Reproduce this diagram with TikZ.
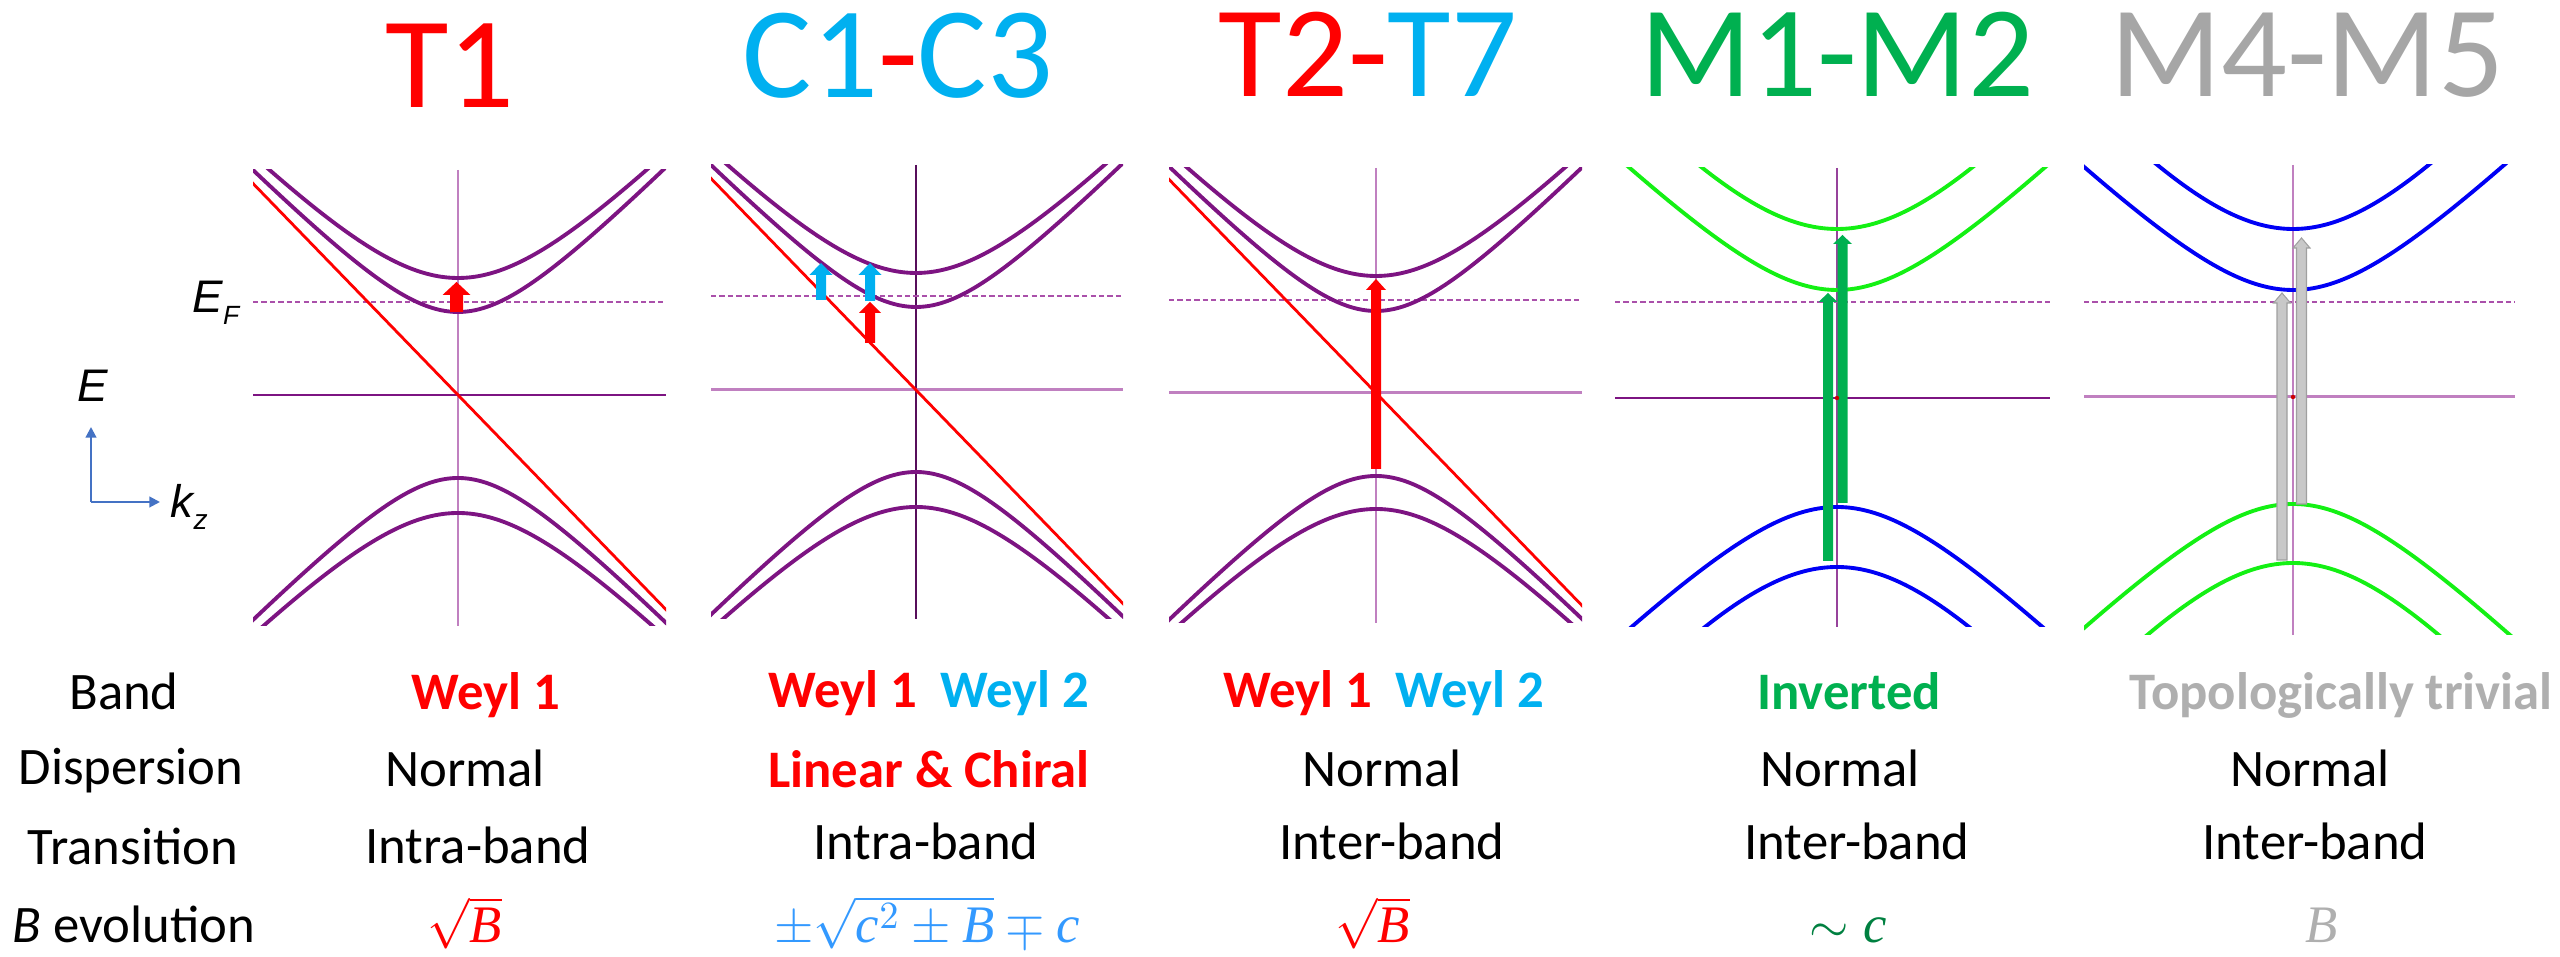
\documentclass[tikz,border=0pt]{standalone}
\usepackage{fontspec}
\setmainfont{Carlito}
\newfontfamily\axfont{Liberation Sans}
\newfontfamily\eqfont{Liberation Serif}
\usetikzlibrary{arrows.meta}
\definecolor{weylblue}{RGB}{0,176,240}
\definecolor{mgreen}{RGB}{0,176,80}
\definecolor{eqgreen}{RGB}{0,128,64}
\definecolor{eqblue}{RGB}{51,153,255}
\definecolor{titlegray}{RGB}{166,166,166}
\definecolor{textgray}{RGB}{175,175,175}
\definecolor{bandpurple}{RGB}{125,20,130}
\definecolor{lightpurple}{RGB}{192,128,192}
\definecolor{fermipurple}{RGB}{170,80,170}
\definecolor{bandgreen}{RGB}{20,240,20}
\definecolor{bandblue}{RGB}{0,0,245}
\definecolor{axisblue}{RGB}{68,114,196}
\definecolor{arrowgray}{RGB}{200,200,200}
\definecolor{edgegray}{RGB}{160,160,160}

% one branch of a gapped band: centre x, zero line, sign (- up / + down), gap, slope
\newcommand{\band}[6][]{%
  \draw[#1] plot[domain=-23:23, samples=81, smooth] ({#2+\x},{#3#4sqrt((#5)^2+(#6*\x)^2)});}
% vertical transition arrow: x, base, tip, shaft half width, head half width, head length
\newcommand{\trans}[7][]{%
  \filldraw[#1] (#2-#5,#3) -- (#2-#5,#4+#7) -- (#2-#6,#4+#7) -- (#2,#4)
    -- (#2+#6,#4+#7) -- (#2+#5,#4+#7) -- (#2+#5,#3) -- cycle;}
\newcommand{\evar}[1]{\mbox{\eqfont\itshape #1}}

\begin{document}
\begin{tikzpicture}[x=1mm, y=-1mm,
  title/.style={anchor=base, inner sep=0pt, font=\fontsize{37}{40}\selectfont},
  cell/.style={anchor=base, inner sep=0pt, font=\fontsize{15}{18}\selectfont},
  bandname/.style={cell, font=\fontsize{15}{18}\selectfont\bfseries},
  band/.style={line width=1.1pt},
  weyl/.style={red, line width=0.8pt},
  kline/.style={lightpurple, line width=0.45pt},
  midlight/.style={lightpurple, line width=0.85pt},
  middark/.style={bandpurple, line width=0.5pt},
  fermi/.style={fermipurple, line width=0.6pt, dash pattern=on 1.5pt off 0.9pt},
  axis/.style={axisblue, line width=0.6pt, -{Triangle[length=3pt,width=3pt]}},
  axlab/.style={inner sep=0pt, font=\fontsize{13}{15}\axfont\itshape}
]
\useasboundingbox (0,0) rectangle (256,95.7);

% axes
\coordinate (orig) at (9.1,50.2);
\coordinate (eend) at (9.1,42.7);
\coordinate (kend) at (16.0,50.2);
\draw[axis] (orig) -- (eend);
\draw[axis] (orig) -- (kend);
\node[axlab, anchor=base] (elab) at (9.3,40.2) {E};
\node[axlab, anchor=base west] (klab) at (17.0,51.8) {k\raisebox{-3.4pt}{\fontsize{8}{9}\selectfont z}};
\node[axlab, anchor=base west] (eflab) at (19.2,31.3) {E\raisebox{-3.4pt}{\fontsize{7.5}{9}\selectfont F}};

% titles
\node[title, red] (t1) at (45.0,10.8) {T1};
\node[title] (c13) at (89.8,9.8) {\color{weylblue}C1\color{red}-\color{weylblue}C3};
\node[title] (t27) at (136.8,9.7) {\color{red}T2-\color{weylblue}T7};
\node[title, mgreen] (m12) at (183.7,9.7) {M1-M2};
\node[title, titlegray] (m45) at (230.7,9.7) {M4-M5};

% panel 1
\begin{scope}
  \clip (25.3,17.0) rectangle (66.6,62.6);
  \draw[kline] (45.8,17.0) -- (45.8,62.6);
  \draw[middark] (25.3,39.5) -- (66.6,39.5);
  \draw[fermi] (25.3,30.2) -- (66.6,30.2);
  \draw[weyl] (23.8,16.8) -- (67.8,62.2);
  \band[bandpurple, band]{45.8}{39.5}{-}{11.7}{1.02}
  \band[bandpurple, band]{45.8}{39.5}{-}{8.3}{1.02}
  \band[bandpurple, band]{45.8}{39.5}{+}{8.3}{1.02}
  \band[bandpurple, band]{45.8}{39.5}{+}{11.8}{1.02}
\end{scope}
\trans[fill=red, draw=none]{45.65}{31.2}{28.2}{0.65}{1.4}{1.3}

% panel 2
\begin{scope}
  \clip (71.1,16.5) rectangle (112.3,61.9);
  \draw[bandpurple!70!black, line width=0.3pt] (91.6,16.5) -- (91.6,61.9);
  \draw[midlight] (71.1,39.0) -- (112.3,39.0);
  \draw[fermi] (71.1,29.6) -- (112.3,29.6);
  \draw[weyl] (69.6,16.3) -- (113.6,61.7);
  \band[bandpurple, band]{91.6}{39.0}{-}{11.7}{1.02}
  \band[bandpurple, band]{91.6}{39.0}{-}{8.3}{1.02}
  \band[bandpurple, band]{91.6}{39.0}{+}{8.2}{1.02}
  \band[bandpurple, band]{91.6}{39.0}{+}{11.7}{1.02}
\end{scope}
\trans[fill=weylblue, draw=none]{82.1}{30.0}{26.3}{0.5}{1.15}{1.2}
\trans[fill=weylblue, draw=none]{87.0}{30.1}{26.3}{0.5}{1.15}{1.2}
\trans[fill=red, draw=none]{87.0}{34.3}{30.2}{0.5}{1.1}{1.1}

% panel 3
\begin{scope}
  \clip (116.9,16.8) rectangle (158.2,62.3);
  \draw[kline] (137.6,16.8) -- (137.6,62.3);
  \draw[midlight] (116.9,39.3) -- (158.2,39.3);
  \draw[fermi] (116.9,30.0) -- (158.2,30.0);
  \draw[weyl] (115.6,16.6) -- (159.6,62.0);
  \band[bandpurple, band]{137.6}{39.3}{-}{11.7}{1.02}
  \band[bandpurple, band]{137.6}{39.3}{-}{8.2}{1.02}
  \band[bandpurple, band]{137.6}{39.3}{+}{8.3}{1.02}
  \band[bandpurple, band]{137.6}{39.3}{+}{11.6}{1.02}
\end{scope}
\trans[fill=red, draw=none]{137.6}{46.9}{27.9}{0.5}{1.0}{1.1}

% panel 4
\begin{scope}
  \clip (161.5,16.8) rectangle (205.0,62.7);
  \draw[bandpurple!80, line width=0.45pt] (183.7,16.8) -- (183.7,62.7);
  \draw[middark] (161.5,39.8) -- (205.0,39.8);
  \draw[fermi] (161.5,30.2) -- (205.0,30.2);
  \band[bandgreen, band]{183.7}{39.8}{-}{16.9}{1.16}
  \band[bandgreen, band]{183.7}{39.8}{-}{10.8}{0.98}
  \band[bandblue, band]{183.7}{39.8}{+}{10.9}{0.98}
  \band[bandblue, band]{183.7}{39.8}{+}{16.9}{1.17}
\end{scope}
\trans[fill=mgreen, draw=none]{182.8}{56.1}{29.3}{0.5}{0.95}{0.9}
\trans[fill=mgreen, draw=none]{184.25}{50.3}{23.5}{0.5}{0.95}{0.9}
\fill[red!80!black] (183.7,39.8) circle (0.22);

% panel 5
\begin{scope}
  \clip (208.4,16.5) rectangle (251.5,63.5);
  \draw[kline] (229.3,16.5) -- (229.3,63.5);
  \draw[midlight] (208.4,39.7) -- (251.5,39.7);
  \draw[fermi] (208.4,30.2) -- (251.5,30.2);
  \band[bandblue, band]{229.3}{39.7}{-}{16.8}{1.18}
  \band[bandblue, band]{229.3}{39.7}{-}{10.7}{0.975}
  \band[bandgreen, band]{229.3}{39.7}{+}{10.7}{0.98}
  \band[bandgreen, band]{229.3}{39.7}{+}{16.6}{1.17}
\end{scope}
\trans[fill=arrowgray, draw=edgegray, line width=0.3pt]{228.2}{56.0}{29.3}{0.5}{0.85}{1.0}
\trans[fill=arrowgray, draw=edgegray, line width=0.3pt]{230.15}{50.4}{23.8}{0.5}{0.85}{1.0}
\fill[red!80!black] (229.3,39.7) circle (0.22);

% table rows
\node[cell] (lband) at (12.4,71.0) {Band};
\node[cell] (ldisp) at (13.1,78.5) {Dispersion};
\node[cell] (ltrans) at (13.3,86.5) {Transition};
\node[cell] (levol) at (13.4,94.3) {\textit{B} evolution};

\node[bandname, red] (b1) at (48.6,71.0) {Weyl 1};
\node[cell] (d1) at (46.5,78.7) {Normal};
\node[cell] (tr1) at (47.8,86.4) {Intra-band};
\node[cell, red] (e1) at (46.5,94.3) {$\sqrt{\evar{B}}$};

\node[bandname] (b2) at (92.9,70.8) {\color{red}Weyl 1~~\color{weylblue}Weyl 2};
\node[bandname, red] (d2) at (92.9,78.8) {Linear \& Chiral};
\node[cell] (tr2) at (92.6,86.0) {Intra-band};
\node[cell, eqblue] (e2) at (92.7,94.3) {$\pm\sqrt{\evar{c}^2\pm\evar{B}}\mp\evar{c}$};

\node[bandname] (b3) at (138.4,70.8) {\color{red}Weyl 1~~\color{weylblue}Weyl 2};
\node[cell] (d3) at (138.2,78.7) {Normal};
\node[cell] (tr3) at (139.2,86.0) {Inter-band};
\node[cell, red] (e3) at (137.3,94.3) {$\sqrt{\evar{B}}$};

\node[bandname, mgreen] (b4) at (184.9,71.0) {Inverted};
\node[cell] (d4) at (184.0,78.7) {Normal};
\node[cell] (tr4) at (185.7,86.0) {Inter-band};
\node[cell, eqgreen] (e4) at (184.8,94.3) {$\sim\evar{c}$};

\node[bandname, textgray] (b5) at (234.1,71.0) {Topologically trivial};
\node[cell] (d5) at (231.0,78.7) {Normal};
\node[cell] (tr5) at (231.5,86.0) {Inter-band};
\node[cell, textgray] (e5) at (232.2,94.3) {$\evar{B}$};
\end{tikzpicture}
\end{document}
